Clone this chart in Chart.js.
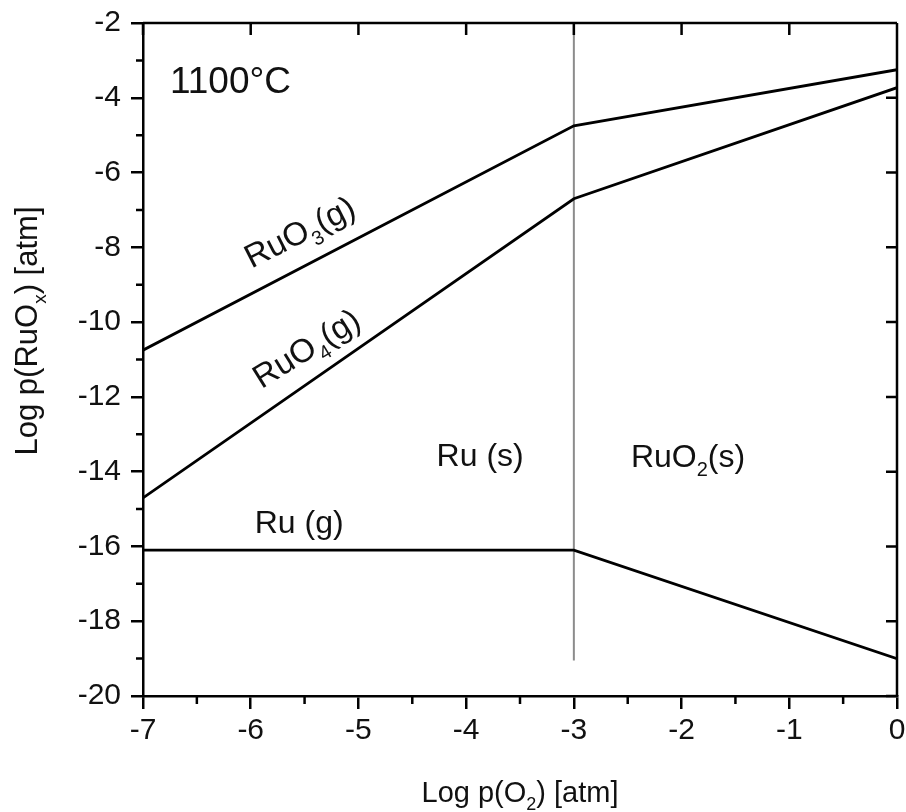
<!DOCTYPE html>
<html lang="en">
<head>
    <meta charset="UTF-8">
    <title>Ru-O volatility diagram, 1100°C</title>
    <style>
        body { margin: 0; background: #fff; }
        canvas { display: block; }
    </style>
    <script src="https://cdn.jsdelivr.net/npm/chart.js@4"></script>
</head>
<body>
<canvas id="chart" width="906" height="812"></canvas>
<script>
    // Log p(O2) break points and Log p(species)
    const xPoints = [-7, -3, 0];
    const ruO3 = [-10.75, -4.75, -3.25];
    const ruO4 = [-14.7, -6.7, -3.73];
    const ruGas = [-16.1, -16.1, -19.0];

    // Ru(s) / RuO2(s) boundary
    const boundaryX = [-3, -3];
    const boundaryY = [-2, -19.05];

    const xTicks = [-7, -6, -5, -4, -3, -2, -1, 0];
    const yTicks = [-20, -18, -16, -14, -12, -10, -8, -6, -4, -2];

    const FONT = '"Liberation Sans", Arial, sans-serif';

    function toPoints(xs, ys) {
        return xs.map((x, i) => ({ x: x, y: ys[i] }));
    }

    // text with subscripts, parts = [[text, isSub], ...]
    function drawRich(ctx, parts, x, y, size, align) {
        const subSize = Math.round(size * 0.62);
        let total = 0;
        parts.forEach(p => {
            ctx.font = (p[1] ? subSize : size) + 'px ' + FONT;
            total += ctx.measureText(p[0]).width;
        });
        let cx = align === 'left' ? x : x - total / 2;
        ctx.textAlign = 'left';
        ctx.textBaseline = 'alphabetic';
        parts.forEach(p => {
            ctx.font = (p[1] ? subSize : size) + 'px ' + FONT;
            ctx.fillText(p[0], cx, p[1] ? y + size * 0.28 : y);
            cx += ctx.measureText(p[0]).width;
        });
    }

    const labels = [
        { parts: [['1100°C']], x: -6.75, y: -3.86, size: 37, align: 'left', rot: 0 },
        { parts: [['Ru (s)']], x: -3.87, y: -13.86, size: 32, align: 'center', rot: 0 },
        { parts: [['RuO'], ['2', true], ['(s)']], x: -1.94, y: -13.87, size: 32, align: 'center', rot: 0 },
        { parts: [['Ru (g)']], x: -5.55, y: -15.63, size: 32, align: 'center', rot: 0 },
        { parts: [['RuO'], ['3', true], ['(g)']], x: -5.5, y: -7.85, size: 33, align: 'center', rot: -27 },
        { parts: [['RuO'], ['4', true], ['(g)']], x: -5.43, y: -10.95, size: 33, align: 'center', rot: -32 }
    ];

    const framePlugin = {
        id: 'frame',
        afterDraw(chart) {
            const ctx = chart.ctx;
            const a = chart.chartArea;
            const xs = chart.scales.x, ys = chart.scales.y;
            ctx.save();
            ctx.strokeStyle = '#000';
            ctx.lineWidth = 2.5;
            ctx.beginPath();
            ctx.moveTo(a.left, a.top); ctx.lineTo(a.right, a.top);
            ctx.moveTo(a.right, a.top); ctx.lineTo(a.right, a.bottom);
            // inward ticks on top and right
            xTicks.forEach(v => {
                const px = xs.getPixelForValue(v);
                ctx.moveTo(px, a.top); ctx.lineTo(px, a.top + 12);
            });
            yTicks.forEach(v => {
                const py = ys.getPixelForValue(v);
                ctx.moveTo(a.right, py); ctx.lineTo(a.right - 11, py);
            });
            // minor outward ticks
            for (let i = 0; i < xTicks.length - 1; i++) {
                const px = xs.getPixelForValue(xTicks[i] + 0.5);
                ctx.moveTo(px, a.bottom); ctx.lineTo(px, a.bottom + 8);
            }
            for (let i = 0; i < yTicks.length - 1; i++) {
                const py = ys.getPixelForValue(yTicks[i] + 1);
                ctx.moveTo(a.left, py); ctx.lineTo(a.left - 7, py);
            }
            ctx.stroke();

            // axis titles
            ctx.fillStyle = '#111';
            drawRich(ctx, [['Log p(O'], ['2', true], [') [atm]']], 520, 802, 29, 'center');
            ctx.save();
            ctx.translate(37, 331);
            ctx.rotate(-Math.PI / 2);
            drawRich(ctx, [['Log p(RuO'], ['x', true], [') [atm]']], 0, 0, 31, 'center');
            ctx.restore();

            // annotations
            labels.forEach(l => {
                ctx.save();
                ctx.translate(xs.getPixelForValue(l.x), ys.getPixelForValue(l.y));
                ctx.rotate(l.rot * Math.PI / 180);
                drawRich(ctx, l.parts, 0, 0, l.size, l.align);
                ctx.restore();
            });
            ctx.restore();
        }
    };

    const lineStyle = { borderColor: '#000', borderWidth: 2.8, pointRadius: 0, fill: false, tension: 0 };

    new Chart(document.getElementById('chart'), {
        type: 'line',
        data: {
            datasets: [
                Object.assign({ label: 'RuO3(g)', data: toPoints(xPoints, ruO3) }, lineStyle),
                Object.assign({ label: 'RuO4(g)', data: toPoints(xPoints, ruO4) }, lineStyle),
                Object.assign({ label: 'Ru(g)', data: toPoints(xPoints, ruGas) }, lineStyle),
                { label: 'boundary', data: toPoints(boundaryX, boundaryY), borderColor: '#8c8c8c',
                  borderWidth: 2, pointRadius: 0, fill: false }
            ]
        },
        options: {
            responsive: false,
            animation: false,
            devicePixelRatio: 1,
            layout: { padding: { left: 0, right: 9, top: 23, bottom: 0 } },
            plugins: { legend: { display: false }, tooltip: { enabled: false } },
            scales: {
                x: {
                    type: 'linear',
                    min: -7, max: 0,
                    afterBuildTicks: s => { s.ticks = xTicks.map(v => ({ value: v })); },
                    afterFit: s => { s.height = 116; s.paddingLeft = 0; s.paddingRight = 0; },
                    grid: { drawOnChartArea: false, drawTicks: true, tickLength: 13, color: '#000', lineWidth: 2.5 },
                    border: { display: true, color: '#000', width: 2.5 },
                    ticks: { color: '#111', font: { family: FONT, size: 30 }, padding: 4, maxRotation: 0 }
                },
                y: {
                    type: 'linear',
                    min: -20, max: -2,
                    afterBuildTicks: s => { s.ticks = yTicks.map(v => ({ value: v })); },
                    afterFit: s => { s.width = 143; s.paddingTop = 0; s.paddingBottom = 0; },
                    grid: { drawOnChartArea: false, drawTicks: true, tickLength: 12, color: '#000', lineWidth: 2.5 },
                    border: { display: true, color: '#000', width: 2.5 },
                    ticks: { color: '#111', font: { family: FONT, size: 30 }, padding: 10 }
                }
            }
        },
        plugins: [framePlugin]
    });
</script>
</body>
</html>
